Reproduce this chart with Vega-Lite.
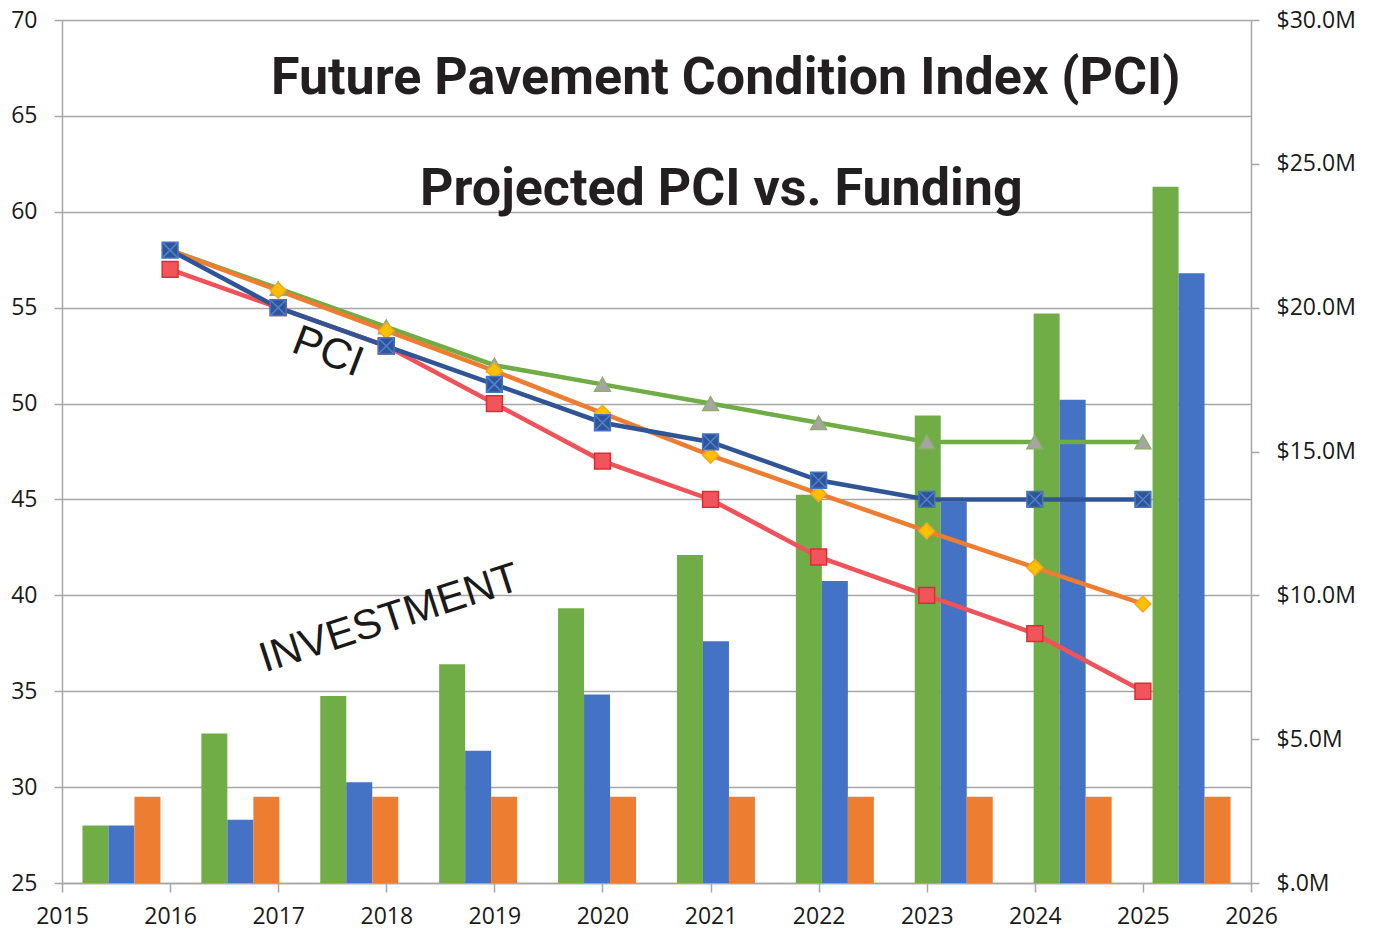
{
  "$schema": "https://vega.github.io/schema/vega-lite/v6.json",
  "width": 1189,
  "height": 863,
  "autosize": {"type": "none"},
  "padding": {"left": 62, "top": 20, "right": 126, "bottom": 47},
  "background": "white",
  "config": {
    "view": {"stroke": null},
    "axis": {
      "labelFont": "Open Sans",
      "labelFontSize": 23,
      "labelColor": "#1a1a1a",
      "domainColor": "#A6A6A6",
      "domainWidth": 1.5,
      "tickColor": "#A6A6A6",
      "tickWidth": 1.5,
      "gridColor": "#A6A6A6",
      "gridWidth": 1.5,
      "labelFlush": false,
      "labelOverlap": false,
      "title": null
    }
  },
  "datasets": {
    "funding": [
      {"year": "2016", "scenario": "Scenario 1", "millions": 2.0},
      {"year": "2016", "scenario": "Scenario 2", "millions": 2.0},
      {"year": "2016", "scenario": "Scenario 3", "millions": 3.0},
      {"year": "2017", "scenario": "Scenario 1", "millions": 5.2},
      {"year": "2017", "scenario": "Scenario 2", "millions": 2.2},
      {"year": "2017", "scenario": "Scenario 3", "millions": 3.0},
      {"year": "2018", "scenario": "Scenario 1", "millions": 6.5},
      {"year": "2018", "scenario": "Scenario 2", "millions": 3.5},
      {"year": "2018", "scenario": "Scenario 3", "millions": 3.0},
      {"year": "2019", "scenario": "Scenario 1", "millions": 7.6},
      {"year": "2019", "scenario": "Scenario 2", "millions": 4.6},
      {"year": "2019", "scenario": "Scenario 3", "millions": 3.0},
      {"year": "2020", "scenario": "Scenario 1", "millions": 9.55},
      {"year": "2020", "scenario": "Scenario 2", "millions": 6.55},
      {"year": "2020", "scenario": "Scenario 3", "millions": 3.0},
      {"year": "2021", "scenario": "Scenario 1", "millions": 11.4},
      {"year": "2021", "scenario": "Scenario 2", "millions": 8.4},
      {"year": "2021", "scenario": "Scenario 3", "millions": 3.0},
      {"year": "2022", "scenario": "Scenario 1", "millions": 13.5},
      {"year": "2022", "scenario": "Scenario 2", "millions": 10.5},
      {"year": "2022", "scenario": "Scenario 3", "millions": 3.0},
      {"year": "2023", "scenario": "Scenario 1", "millions": 16.25},
      {"year": "2023", "scenario": "Scenario 2", "millions": 13.25},
      {"year": "2023", "scenario": "Scenario 3", "millions": 3.0},
      {"year": "2024", "scenario": "Scenario 1", "millions": 19.8},
      {"year": "2024", "scenario": "Scenario 2", "millions": 16.8},
      {"year": "2024", "scenario": "Scenario 3", "millions": 3.0},
      {"year": "2025", "scenario": "Scenario 1", "millions": 24.2},
      {"year": "2025", "scenario": "Scenario 2", "millions": 21.2},
      {"year": "2025", "scenario": "Scenario 3", "millions": 3.0}
    ],
    "pci": [
      {"year": 2016, "scenario": "Scenario 1", "pci": 58},
      {"year": 2017, "scenario": "Scenario 1", "pci": 56},
      {"year": 2018, "scenario": "Scenario 1", "pci": 54},
      {"year": 2019, "scenario": "Scenario 1", "pci": 52},
      {"year": 2020, "scenario": "Scenario 1", "pci": 51},
      {"year": 2021, "scenario": "Scenario 1", "pci": 50},
      {"year": 2022, "scenario": "Scenario 1", "pci": 49},
      {"year": 2023, "scenario": "Scenario 1", "pci": 48},
      {"year": 2024, "scenario": "Scenario 1", "pci": 48},
      {"year": 2025, "scenario": "Scenario 1", "pci": 48},
      {"year": 2016, "scenario": "Scenario 3", "pci": 58},
      {"year": 2017, "scenario": "Scenario 3", "pci": 55.9},
      {"year": 2018, "scenario": "Scenario 3", "pci": 53.8},
      {"year": 2019, "scenario": "Scenario 3", "pci": 51.7},
      {"year": 2020, "scenario": "Scenario 3", "pci": 49.5},
      {"year": 2021, "scenario": "Scenario 3", "pci": 47.3},
      {"year": 2022, "scenario": "Scenario 3", "pci": 45.3},
      {"year": 2023, "scenario": "Scenario 3", "pci": 43.35},
      {"year": 2024, "scenario": "Scenario 3", "pci": 41.45},
      {"year": 2025, "scenario": "Scenario 3", "pci": 39.55},
      {"year": 2016, "scenario": "Existing", "pci": 57},
      {"year": 2017, "scenario": "Existing", "pci": 55},
      {"year": 2018, "scenario": "Existing", "pci": 53},
      {"year": 2019, "scenario": "Existing", "pci": 50},
      {"year": 2020, "scenario": "Existing", "pci": 47},
      {"year": 2021, "scenario": "Existing", "pci": 45},
      {"year": 2022, "scenario": "Existing", "pci": 42},
      {"year": 2023, "scenario": "Existing", "pci": 40},
      {"year": 2024, "scenario": "Existing", "pci": 38},
      {"year": 2025, "scenario": "Existing", "pci": 35},
      {"year": 2016, "scenario": "Scenario 2", "pci": 58},
      {"year": 2017, "scenario": "Scenario 2", "pci": 55},
      {"year": 2018, "scenario": "Scenario 2", "pci": 53},
      {"year": 2019, "scenario": "Scenario 2", "pci": 51},
      {"year": 2020, "scenario": "Scenario 2", "pci": 49},
      {"year": 2021, "scenario": "Scenario 2", "pci": 48},
      {"year": 2022, "scenario": "Scenario 2", "pci": 46},
      {"year": 2023, "scenario": "Scenario 2", "pci": 45},
      {"year": 2024, "scenario": "Scenario 2", "pci": 45},
      {"year": 2025, "scenario": "Scenario 2", "pci": 45}
    ]
  },
  "layer": [
    {
      "data": {"name": "funding"},
      "mark": {"type": "bar"},
      "encoding": {
        "x": {
          "field": "year",
          "type": "ordinal",
          "scale": {"paddingInner": 0.344, "paddingOuter": 0.172},
          "axis": null
        },
        "xOffset": {
          "field": "scenario",
          "type": "nominal",
          "scale": {"domain": ["Scenario 1", "Scenario 2", "Scenario 3"], "paddingInner": 0, "paddingOuter": 0}
        },
        "y": {
          "field": "millions",
          "type": "quantitative",
          "scale": {"domain": [0, 30], "nice": false, "zero": true},
          "axis": {
            "orient": "right",
            "values": [0, 5, 10, 15, 20, 25, 30],
            "grid": false,
            "tickSize": 8,
            "labelPadding": 17,
            "labelExpr": "datum.value == 0 ? '$.0M' : '$' + format(datum.value, '.1f') + 'M'"
          }
        },
        "color": {
          "field": "scenario",
          "type": "nominal",
          "scale": {"domain": ["Scenario 1", "Scenario 2", "Scenario 3"], "range": ["#70AD47", "#4472C4", "#ED7D31"]},
          "legend": null
        }
      }
    },
    {
      "layer": [
        {
          "data": {"name": "pci"},
          "mark": {"type": "line", "strokeWidth": 4.5},
          "encoding": {
            "x": {
              "field": "year",
              "type": "quantitative",
              "scale": {"domain": [2015, 2026], "nice": false, "zero": false},
              "axis": {
                "orient": "bottom",
                "values": [2015, 2016, 2017, 2018, 2019, 2020, 2021, 2022, 2023, 2024, 2025, 2026],
                "format": "d",
                "grid": false,
                "tickSize": 9,
                "labelPadding": 13
              }
            },
            "y": {
              "field": "pci",
              "type": "quantitative",
              "scale": {"domain": [25, 70], "nice": false, "zero": false},
              "axis": {
                "orient": "left",
                "values": [25, 30, 35, 40, 45, 50, 55, 60, 65, 70],
                "grid": true,
                "tickSize": 8,
                "labelPadding": 17
              }
            },
            "color": {
              "field": "scenario",
              "type": "nominal",
              "scale": {"domain": ["Scenario 1", "Scenario 3", "Existing", "Scenario 2"], "range": ["#70AD47", "#ED7D31", "#F0525A", "#2F5597"]},
              "legend": null
            }
          }
        },
        {
          "data": {"name": "pci"},
          "mark": {"type": "point", "filled": true, "size": 250, "strokeWidth": 1.5, "opacity": 1},
          "encoding": {
            "x": {"field": "year", "type": "quantitative"},
            "y": {"field": "pci", "type": "quantitative"},
            "shape": {
              "field": "scenario",
              "type": "nominal",
              "scale": {"domain": ["Scenario 1", "Scenario 3", "Existing", "Scenario 2"], "range": ["triangle-up", "diamond", "square", "square"]},
              "legend": null
            },
            "fill": {
              "field": "scenario",
              "type": "nominal",
              "scale": {"domain": ["Scenario 1", "Scenario 3", "Existing", "Scenario 2"], "range": ["#A5A5A5", "#FFC000", "#F0555C", "#2F5597"]},
              "legend": null
            },
            "stroke": {
              "field": "scenario",
              "type": "nominal",
              "scale": {"domain": ["Scenario 1", "Scenario 3", "Existing", "Scenario 2"], "range": ["#8FAE6E", "#F5A623", "#E42A30", "#4472C4"]},
              "legend": null
            }
          }
        },
        {
          "data": {"name": "pci"},
          "transform": [{"filter": "datum.scenario == 'Scenario 2'"}],
          "mark": {"type": "point", "filled": false, "shape": "M-1,-1L1,1M1,-1L-1,1", "size": 210, "stroke": "#4F82CF", "strokeWidth": 1.5, "opacity": 1},
          "encoding": {
            "x": {"field": "year", "type": "quantitative"},
            "y": {"field": "pci", "type": "quantitative"}
          }
        },
        {
          "data": {"values": [{"label": "Future Pavement Condition Index (PCI)"}]},
          "mark": {"type": "text", "font": "Roboto", "fontWeight": "bold", "fontSize": 52, "align": "center", "baseline": "alphabetic", "color": "#231F20"},
          "encoding": {
            "x": {"datum": 2021.14, "type": "quantitative"},
            "y": {"datum": 66.14, "type": "quantitative"},
            "text": {"field": "label"}
          }
        },
        {
          "data": {"values": [{"label": "Projected PCI vs. Funding"}]},
          "mark": {"type": "text", "font": "Roboto", "fontWeight": "bold", "fontSize": 52, "align": "center", "baseline": "alphabetic", "color": "#231F20"},
          "encoding": {
            "x": {"datum": 2021.1, "type": "quantitative"},
            "y": {"datum": 60.35, "type": "quantitative"},
            "text": {"field": "label"}
          }
        },
        {
          "data": {"values": [{"label": "PCI"}]},
          "mark": {"type": "text", "font": "Liberation Sans", "fontSize": 43, "align": "center", "baseline": "middle", "angle": 21, "color": "#1a1a1a"},
          "encoding": {
            "x": {"datum": 2017.46, "type": "quantitative"},
            "y": {"datum": 52.69, "type": "quantitative"},
            "text": {"field": "label"}
          }
        },
        {
          "data": {"values": [{"label": "INVESTMENT"}]},
          "mark": {"type": "text", "font": "Liberation Sans", "fontSize": 42, "align": "center", "baseline": "middle", "angle": -18, "color": "#1a1a1a"},
          "encoding": {
            "x": {"datum": 2018.03, "type": "quantitative"},
            "y": {"datum": 38.8, "type": "quantitative"},
            "text": {"field": "label"}
          }
        }
      ]
    }
  ],
  "resolve": {"scale": {"x": "independent", "y": "independent", "color": "independent"}}
}
